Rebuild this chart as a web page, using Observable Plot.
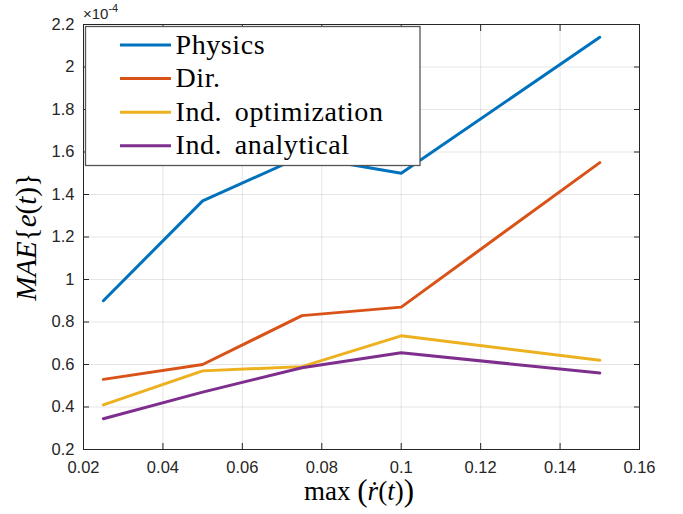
<!DOCTYPE html>
<html>
<head>
<meta charset="utf-8">
<script src="https://cdn.jsdelivr.net/npm/d3@7"></script>
<script src="https://cdn.jsdelivr.net/npm/@observablehq/plot@0.6"></script>
<style>
  html, body { margin: 0; padding: 0; background: #fff; }
  #chart { position: relative; width: 683px; height: 514px; }
</style>
</head>
<body>
<div id="chart"></div>
<script>
// x values: max(rdot(t))
const xVals = [0.025, 0.05, 0.075, 0.1, 0.15];
// MAE{e(t)} in units of 1e-4
const physics = [0.90, 1.37, 1.58, 1.50, 2.14];
const dir     = [0.53, 0.60, 0.83, 0.87, 1.55];
const indOpt  = [0.41, 0.57, 0.59, 0.735, 0.62];
const indAna  = [0.345, 0.47, 0.585, 0.655, 0.56];

const seriesNames  = ["Physics", "Dir.", "Ind. optimization", "Ind. analytical"];
const seriesValues = [physics, dir, indOpt, indAna];
const seriesColors = ["#0072BD", "#D95319", "#EDB120", "#7E2F8E"];

const xTicks = [0.02, 0.04, 0.06, 0.08, 0.1, 0.12, 0.14, 0.16];
const yTicks = [0.2, 0.4, 0.6, 0.8, 1, 1.2, 1.4, 1.6, 1.8, 2, 2.2];
const exponentBase = "×10";
const exponentSup = "-4";

const rows = seriesNames.flatMap((name, s) =>
  xVals.map((x, i) => ({ name, x, y: seriesValues[s][i] })));

const fmt = d => String(+d.toFixed(3));
const ink = "#262626";
const sans = "'Liberation Sans', Arial, sans-serif";

const chart = Plot.plot({
  width: 683,
  height: 514,
  marginLeft: 83,
  marginRight: 44,
  marginTop: 24,
  marginBottom: 65,
  style: { fontFamily: sans, fontSize: "16px", color: ink, background: "#fff" },
  x: { domain: [0.02, 0.16] },
  y: { domain: [0.2, 2.2] },
  color: { domain: seriesNames, range: seriesColors },
  marks: [
    Plot.gridX(xTicks, { stroke: ink, strokeOpacity: 0.12 }),
    Plot.gridY(yTicks, { stroke: ink, strokeOpacity: 0.12 }),
    Plot.line(rows, { x: "x", y: "y", z: "name", stroke: "name", strokeWidth: 3, strokeLinejoin: "round" }),
    Plot.frame({ stroke: ink, strokeWidth: 1 }),
    Plot.axisX(xTicks, { anchor: "bottom", tickSize: -6, tickPadding: 18, tickFormat: fmt, label: null, stroke: ink, fill: ink, fontSize: 16.5 }),
    Plot.axisX(xTicks, { anchor: "top", tickSize: -6, tickFormat: () => "", label: null, stroke: ink }),
    Plot.axisY(yTicks, { anchor: "left", tickSize: -6, tickPadding: 15, tickFormat: fmt, label: null, stroke: ink, fill: ink, fontSize: 16.5 }),
    Plot.axisY(yTicks, { anchor: "right", tickSize: -6, tickFormat: () => "", label: null, stroke: ink })
  ]
});

const svg = d3.select(chart);
const serif = "'Liberation Serif', 'Times New Roman', serif";

// exponent label above the y axis
const ex = svg.append("text")
  .attr("x", 83).attr("y", 19)
  .attr("text-anchor", "start")
  .attr("font-family", sans)
  .attr("font-size", 15).attr("fill", ink);
ex.append("tspan").text(exponentBase);
ex.append("tspan").attr("dy", -7).attr("font-size", 11).text(exponentSup);

// x axis label: max (ṙ(t))
const xl = svg.append("text")
  .attr("x", 359).attr("y", 500)
  .attr("text-anchor", "middle")
  .attr("font-family", serif).attr("font-size", 27).attr("fill", "#000");
xl.append("tspan").text("max ");
xl.append("tspan").attr("font-size", 31).attr("dy", 1).text("(");
xl.append("tspan").attr("font-style", "italic").attr("dy", -1).text("ṙ");
xl.append("tspan").text("(");
xl.append("tspan").attr("font-style", "italic").text("t");
xl.append("tspan").text(")");
xl.append("tspan").attr("font-size", 31).attr("dy", 1).text(")");

// y axis label: MAE{e(t)}
const yl = svg.append("text")
  .attr("transform", "translate(36,237) rotate(-90)")
  .attr("text-anchor", "middle")
  .attr("font-family", serif).attr("font-size", 29).attr("fill", "#000");
yl.append("tspan").attr("font-style", "italic").text("MAE");
yl.append("tspan").text("{");
yl.append("tspan").attr("font-style", "italic").text("e");
yl.append("tspan").text("(");
yl.append("tspan").attr("font-style", "italic").text("t");
yl.append("tspan").text(")}");

// legend
const lg = svg.append("g");
lg.append("rect")
  .attr("x", 85.5).attr("y", 26.5).attr("width", 334.5).attr("height", 139)
  .attr("fill", "#fff").attr("stroke", "#555").attr("stroke-width", 1.3);
seriesNames.forEach((name, i) => {
  const cy = 45 + i * 33.6;
  lg.append("line")
    .attr("x1", 120).attr("x2", 171).attr("y1", cy).attr("y2", cy)
    .attr("stroke", seriesColors[i]).attr("stroke-width", 3);
  lg.append("text")
    .attr("x", 175.5).attr("y", cy + 8.5)
    .attr("text-anchor", "start")
    .attr("font-family", serif).attr("font-size", 28)
    .attr("letter-spacing", 0.6).attr("word-spacing", 5)
    .attr("fill", "#000").text(name);
});

document.getElementById("chart").appendChild(chart);
</script>
</body>
</html>
